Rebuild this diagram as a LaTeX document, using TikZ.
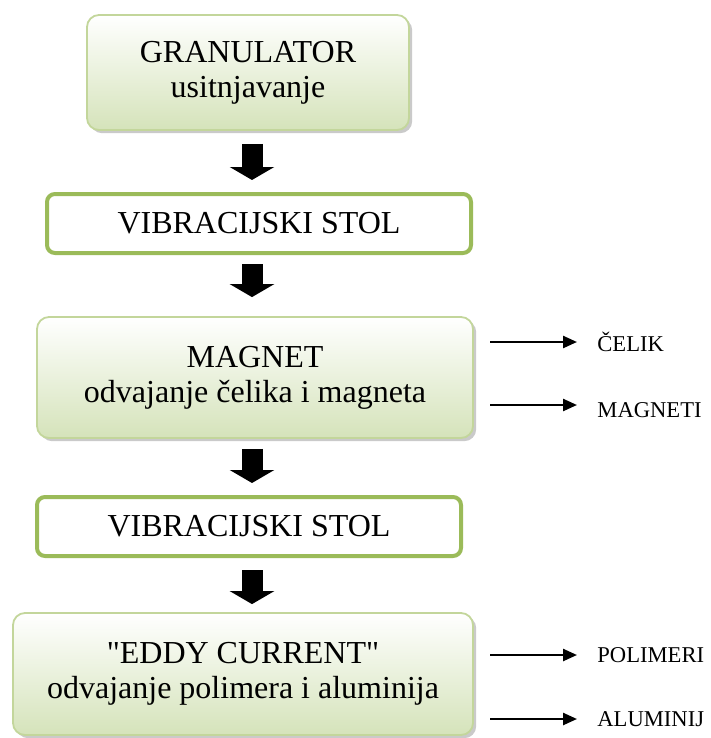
\documentclass[tikz,border=0pt]{standalone}
\usepackage{fontspec}
\setmainfont{Liberation Serif}
\usepackage{tikz}
\usetikzlibrary{arrows.meta,shadows,calc}

\definecolor{olivelight}{HTML}{C3D69B}
\definecolor{olivefill}{HTML}{D5E3BA}
\definecolor{olivedark}{HTML}{9BBB59}

\tikzset{
  stage/.style={draw=olivelight, line width=0.9pt, rounded corners=6pt,
    top color=white, bottom color=olivefill, align=center,
    font=\fontsize{16}{17.5}\selectfont, inner sep=0pt,
    drop shadow={shadow xshift=1.6pt, shadow yshift=-1.6pt, opacity=0.35, fill=black!60}},
  vibbox/.style={draw=olivedark, line width=2pt, rounded corners=4pt, fill=white,
    font=\fontsize{16}{17.5}\selectfont, inner sep=0pt},
  product/.style={anchor=west, inner sep=0pt, font=\fontsize{11.3}{13}\selectfont},
  bigarrow/.style={line width=10.5pt, -{Triangle[width=22pt,length=6.5pt]}},
  sidearrow/.style={line width=1.2pt, -{Triangle[width=6pt,length=7pt]}}
}

\begin{document}
\begin{tikzpicture}[x=0.5pt, y=-0.5pt]
    \useasboundingbox (0,0) rectangle (711,738);

    % main stages
    \node[stage, minimum width=161pt, minimum height=57.5pt] (gran) at (248,72.5)
      {GRANULATOR\\usitnjavanje};
    \node[vibbox, minimum width=212pt, minimum height=29.5pt] (vib1) at (259,223.5)
      {VIBRACIJSKI STOL};
    \node[stage, minimum width=218pt, minimum height=60.5pt] (mag) at (255,377.5)
      {MAGNET\\odvajanje čelika i magneta};
    \node[vibbox, minimum width=212pt, minimum height=29.5pt] (vib2) at (249,526.5)
      {VIBRACIJSKI STOL};
    \node[stage, minimum width=230pt, minimum height=61pt] (eddy) at (243,674)
      {\textquotedbl EDDY CURRENT\textquotedbl\\odvajanje polimera i aluminija};

    % arrows between stages
    \coordinate (ax) at (252,0);
    \draw[bigarrow] ($(gran.south -| ax)+(0,13)$) -- ($(vib1.north -| ax)+(0,-12)$);
    \draw[bigarrow] ($(vib1.south -| ax)+(0,9)$) -- ($(mag.north -| ax)+(0,-19)$);
    \draw[bigarrow] ($(mag.south -| ax)+(0,10)$) -- ($(vib2.north -| ax)+(0,-12)$);
    \draw[bigarrow] ($(vib2.south -| ax)+(0,12)$) -- ($(eddy.north -| ax)+(0,-8)$);

    % outputs
    \node[product] (celik) at (597,342) {ČELIK};
    \node[product] (magneti) at (597,410) {MAGNETI};
    \node[product] (polimeri) at (597,655) {POLIMERI};
    \node[product] (alu) at (597,719) {ALUMINIJ};

    \coordinate (c1) at (490,342);
    \coordinate (c2) at (490,405);
    \coordinate (c3) at (490,655);
    \coordinate (c4) at (490,719);

    \draw[sidearrow, shorten >=10pt] (c1) -- (c1 -| celik.west);
    \draw[sidearrow, shorten >=10pt] (c2) -- (c2 -| magneti.west);
    \draw[sidearrow, shorten >=10pt] (c3) -- (c3 -| polimeri.west);
    \draw[sidearrow, shorten >=10pt] (c4) -- (c4 -| alu.west);
\end{tikzpicture}
\end{document}
